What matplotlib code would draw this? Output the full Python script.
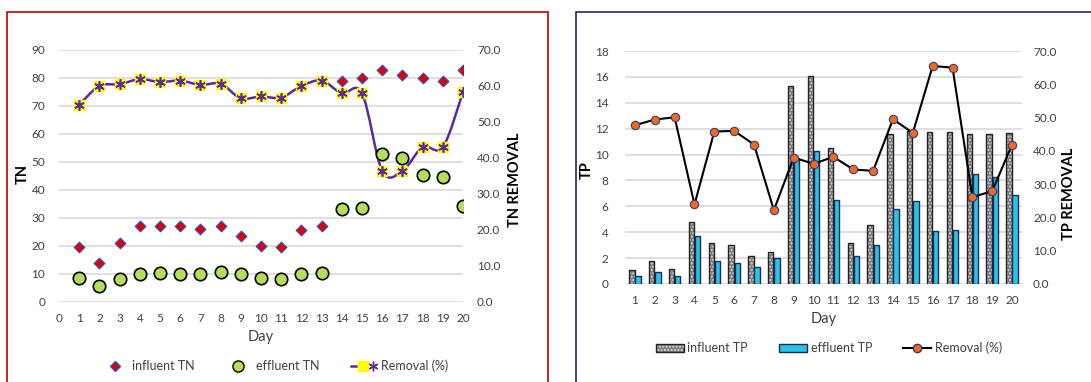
import matplotlib.pyplot as plt
import numpy as np
from matplotlib.path import Path
from matplotlib.patches import PathPatch, Patch, Rectangle
from matplotlib.lines import Line2D
from matplotlib.legend_handler import HandlerTuple

plt.rcParams['font.family'] = ['Lato', 'DejaVu Sans']

days = list(range(1, 21))

# TN (mg/L) and removal (%)
influent_tn = [19.5, 14.1, 21.2, 27.3, 27.1, 27.1, 25.9, 27.3, 23.4, 20.1,
               19.5, 25.6, 27.3, 79.0, 80.0, 82.9, 80.9, 80.0, 79.0, 82.9]
effluent_tn = [8.7, 5.6, 8.2, 10.1, 10.3, 10.1, 10.1, 10.6, 9.9, 8.4,
               8.2, 10.1, 10.3, 33.1, 33.5, 52.7, 51.4, 45.4, 44.8, 34.4]
removal_tn = [54.8, 60.0, 60.5, 61.9, 61.1, 61.5, 60.3, 60.6, 56.6, 57.1,
              56.8, 60.0, 61.5, 58.0, 58.0, 36.4, 36.4, 43.0, 43.0, 58.3]

# TP (mg/L) and removal (%)
influent_tp = [1.08, 1.75, 1.18, 4.8, 3.19, 3.03, 2.2, 2.5, 15.3, 16.1,
               10.5, 3.2, 4.55, 11.55, 11.8, 11.75, 11.75, 11.55, 11.55, 11.7]
effluent_tp = [0.62, 0.9, 0.62, 3.68, 1.75, 1.65, 1.29, 1.98, 9.7, 10.3,
               6.5, 2.13, 3.03, 5.8, 6.4, 4.09, 4.16, 8.53, 8.3, 6.84]
removal_tp = [47.7, 49.4, 50.1, 23.9, 45.8, 46.0, 41.9, 22.2, 38.0, 36.1,
              38.2, 34.4, 34.0, 49.5, 45.4, 65.5, 65.0, 26.1, 27.9, 41.9]

grid_c = '#d9d9d9'
text_c = '#404040'
W, H = 1091, 382


def smooth_path(x, y):
    # Excel-style smoothed line drawn as cubic Bezier segments
    x = np.asarray(x, float)
    y = np.asarray(y, float)
    n = len(x)
    verts = [(x[0], y[0])]
    codes = [Path.MOVETO]
    for i in range(n - 1):
        p0 = np.array([x[max(i - 1, 0)], y[max(i - 1, 0)]])
        p1 = np.array([x[i], y[i]])
        p2 = np.array([x[i + 1], y[i + 1]])
        p3 = np.array([x[min(i + 2, n - 1)], y[min(i + 2, n - 1)]])
        c1 = p1 + (p2 - p0) / 6
        c2 = p2 - (p3 - p1) / 6
        verts += [tuple(c1), tuple(c2), tuple(p2)]
        codes += [Path.CURVE4] * 3
    return Path(verts, codes)


def style(ax):
    for s in ax.spines.values():
        s.set_visible(False)
    ax.tick_params(length=0, labelsize=8.5, labelcolor=text_c)


fig = plt.figure(figsize=(W / 100, H / 100), dpi=100)

# panel frames
fig.add_artist(Rectangle((7 / W, -0.1), 541 / W, 1.1 - 12 / H, transform=fig.transFigure,
                         fill=False, edgecolor='#c00000', linewidth=1.2))
fig.add_artist(Rectangle((576 / W, -0.1), 1, 1.1 - 12 / H, transform=fig.transFigure,
                         fill=False, edgecolor='#1f2a5a', linewidth=1.2))

# ---------------- TN panel ----------------
ax = fig.add_axes([59 / W, 1 - 302 / H, 404 / W, 252 / H])
ax2 = ax.twinx()
ax.set_zorder(ax2.get_zorder() + 1)
ax.patch.set_visible(False)

ax.set_xlim(0, 20)
ax.set_ylim(0, 90)
ax.set_xticks(range(0, 21))
ax.set_yticks(range(0, 91, 10))
ax.yaxis.grid(True, color=grid_c, linewidth=1.2)
ax.set_axisbelow(True)
ax2.set_ylim(0, 70)
ax2.set_yticks(range(0, 71, 10))
ax2.set_yticklabels([f'{v:.1f}' for v in range(0, 71, 10)])
style(ax)
style(ax2)
ax.tick_params(axis='y', pad=10)
ax.tick_params(axis='x', pad=8)
ax2.tick_params(axis='y', pad=10)

# removal curve belongs to the right axis
pp = PathPatch(smooth_path(days, removal_tn), fill=False, edgecolor='#5b2a9a',
               linewidth=1.8, zorder=3)
pp.set_transform(ax2.transData)
ax.add_artist(pp)
ax.plot(days, [v * 90 / 70 for v in removal_tn], linestyle='none', marker='s', markersize=7.5,
        markerfacecolor='#ffff00', markeredgecolor='#ffff00', zorder=4)
ax.plot(days, [v * 90 / 70 for v in removal_tn], linestyle='none', marker=(6, 2, 0),
        markersize=7.5, markeredgecolor='#5b2a9a', markeredgewidth=1.2, zorder=5)

ax.scatter(days, influent_tn, marker='D', s=30, color='#e00000', edgecolor='#2a55c8',
           linewidth=0.8, zorder=6)
ax.scatter(days, effluent_tn, marker='o', s=80, color='#b5dd5a', edgecolor='black',
           linewidth=1.2, zorder=6)

ax.set_xlabel('Day', fontsize=10.5, color=text_c, labelpad=4)
ax.set_ylabel('TN', fontsize=10.5, fontweight='bold', color='black')
ax.yaxis.set_label_coords((30 - 59) / 404, (302 - 174) / 252)
ax2.set_ylabel('TN REMOVAL', fontsize=10.5, fontweight='bold', color='black')
ax2.yaxis.set_label_coords((508 - 59) / 404, (302 - 180) / 252)

h_in = Line2D([], [], linestyle='none', marker='D', markersize=5, markerfacecolor='#e00000',
              markeredgecolor='#2a55c8')
h_ef = Line2D([], [], linestyle='none', marker='o', markersize=8, markerfacecolor='#b5dd5a',
              markeredgecolor='black')
h_rm = (Line2D([], [], color='#5b2a9a', linewidth=1.8),
        Line2D([], [], linestyle='none', marker='s', markersize=7, markerfacecolor='#ffff00',
               markeredgecolor='#ffff00'),
        Line2D([], [], linestyle='none', marker=(6, 2, 0), markersize=7,
               markeredgecolor='#5b2a9a'))
fig.legend([h_in, h_ef, h_rm], ['influent TN', 'effluent TN', 'Removal (%)'],
           loc='center', bbox_to_anchor=(275 / W, 1 - 366 / H), ncol=3, frameon=False,
           fontsize=9, labelcolor=text_c, handlelength=2.0, columnspacing=2.5,
           handletextpad=0.4, handler_map={tuple: HandlerTuple(ndivide=None)})

# ---------------- TP panel ----------------
bx = fig.add_axes([625 / W, 1 - 284 / H, 397 / W, 233 / H])
bx2 = bx.twinx()
bx2.set_zorder(bx.get_zorder() + 1)
bx2.patch.set_visible(False)

d = np.array(days)
w = 0.27
bx.bar(d - w / 2 - 0.02, influent_tp, width=w, color='#7a7a7a', edgecolor='#e0e0e0',
       hatch='.....', linewidth=0, zorder=2)
bx.bar(d - w / 2 - 0.02, influent_tp, width=w, fill=False, edgecolor='#222222',
       linewidth=1.0, zorder=3)
bx.bar(d + w / 2 + 0.02, effluent_tp, width=w, color='#2bc3e3', edgecolor='#1a2a5a',
       linewidth=1.0, zorder=3)

bx.set_xlim(0.5, 20.5)
bx.set_ylim(0, 18)
bx.set_xticks(days)
bx.set_yticks(range(0, 19, 2))
bx.yaxis.grid(True, color=grid_c, linewidth=1.2)
bx.set_axisbelow(True)
bx2.set_ylim(0, 70)
bx2.set_yticks(range(0, 71, 10))
bx2.set_yticklabels([f'{v:.1f}' for v in range(0, 71, 10)])
style(bx)
style(bx2)
bx.tick_params(axis='y', pad=12)
bx.tick_params(axis='x', pad=8)
bx2.tick_params(axis='y', pad=8)

bx2.plot(days, removal_tp, color='black', linewidth=1.5, marker='o', markersize=6,
         markerfacecolor='#f26b0f', markeredgecolor='#2f3a8f', markeredgewidth=0.8, zorder=4)

bx.set_xlabel('Day', fontsize=10.5, color=text_c, labelpad=4)
bx.set_ylabel('TP', fontsize=10.5, fontweight='bold', color='black')
bx.yaxis.set_label_coords((594 - 625) / 397, (284 - 170) / 233)
bx2.set_ylabel('TP REMOVAL', fontsize=10.5, fontweight='bold', color='black')
bx2.yaxis.set_label_coords((1062 - 625) / 397, (284 - 194) / 233)

h_tin = (Patch(facecolor='#7a7a7a', edgecolor='#e0e0e0', hatch='.....', linewidth=0),
         Patch(fill=False, edgecolor='#222222', linewidth=1.0))
h_tef = Patch(facecolor='#2bc3e3', edgecolor='#1a2a5a', linewidth=1.0)
h_trm = Line2D([], [], color='black', linewidth=1.5, marker='o', markersize=6,
               markerfacecolor='#f26b0f', markeredgecolor='#2f3a8f')
fig.legend([h_tin, h_tef, h_trm], ['influent TP', 'effluent TP', 'Removal (%)'],
           loc='center', bbox_to_anchor=(829 / W, 1 - 348 / H), ncol=3, frameon=False,
           fontsize=9, labelcolor=text_c, handlelength=2.2, columnspacing=2.5,
           handletextpad=0.3, handler_map={tuple: HandlerTuple(ndivide=1)})

fig.savefig('out.png', dpi=100)
